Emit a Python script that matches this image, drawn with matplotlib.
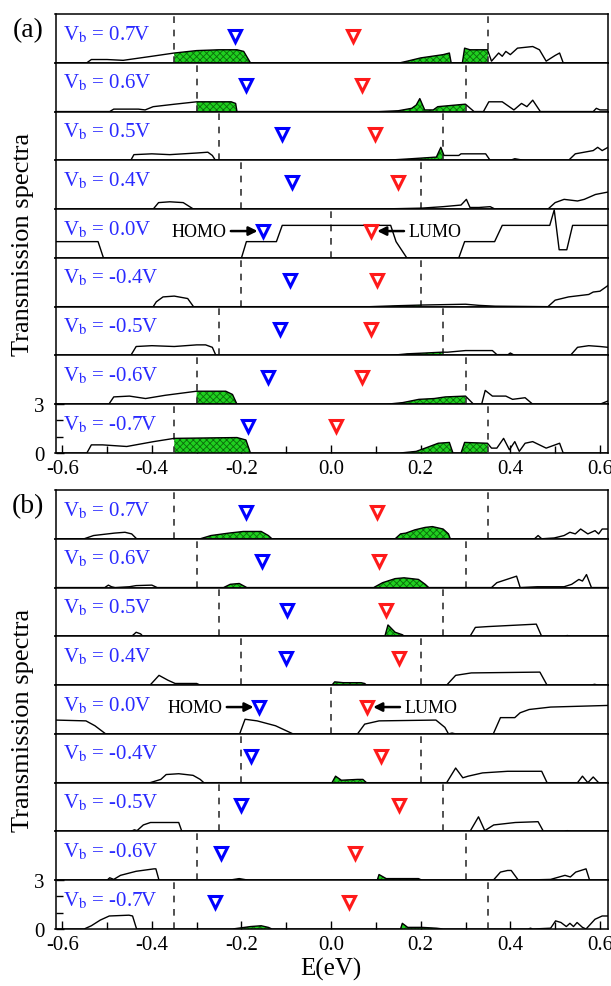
import numpy as np
import matplotlib
matplotlib.use("Agg")
import matplotlib.pyplot as plt

plt.rcParams['font.family'] = ['Liberation Serif', 'DejaVu Serif']
plt.rcParams['mathtext.fontset'] = 'stix'
plt.rcParams['hatch.linewidth'] = 0.6

# ---------------- data ----------------
vb_values = [0.7, 0.6, 0.5, 0.4, 0.0, -0.4, -0.5, -0.6, -0.7]
vb_labels = ['0.7V', '0.6V', '0.5V', '0.4V', '0.0V', '-0.4V', '-0.5V', '-0.6V', '-0.7V']

homo_a = [-0.214, -0.189, -0.109, -0.088, -0.151, -0.092, -0.113, -0.140, -0.185]
lumo_a = [0.048, 0.069, 0.099, 0.149, 0.090, 0.103, 0.090, 0.069, 0.010]
homo_b = [-0.190, -0.155, -0.098, -0.100, -0.160, -0.179, -0.200, -0.246, -0.260]
lumo_b = [0.103, 0.107, 0.123, 0.152, 0.081, 0.111, 0.151, 0.053, 0.041]

xticks = [-0.6, -0.4, -0.2, 0.0, 0.2, 0.4, 0.6]
xtick_labels = ['-0.6', '-0.4', '-0.2', '0.0', '0.2', '0.4', '0.6']

# panel (a) transmission curves
a07_E = [-0.615, -0.545, -0.535, -0.50, -0.464, -0.40, -0.35, -0.30, -0.25, -0.21, -0.195, -0.18,
         0.154, 0.17, 0.20, 0.225, 0.25, 0.264, 0.268, 0.293, 0.298, 0.31, 0.349, 0.358, 0.374,
         0.382, 0.39, 0.40, 0.416, 0.45, 0.465, 0.48, 0.50, 0.51, 0.518, 0.618]
a07_T = [0, 0, 0.2, 0.2, 0.15, 0.4, 0.6, 0.75, 0.8, 0.8, 0.7, 0,
         0, 0.1, 0.3, 0.4, 0.5, 0.6, 0, 0, 0.9, 0.8, 0.8, 0.1, 0.6,
         0.4, 0.7, 0.5, 0.9, 1.0, 0.8, 0.1, 0.45, 0.6, 0, 0]

a06_E = [-0.615, -0.494, -0.485, -0.43, -0.415, -0.397, -0.35, -0.30, -0.223, -0.213, -0.21,
         0.107, 0.15, 0.18, 0.19, 0.198, 0.209, 0.228, 0.238, 0.298, 0.30, 0.319, 0.34, 0.352,
         0.382, 0.408, 0.425, 0.437, 0.45, 0.467, 0.585, 0.592, 0.60, 0.618]
a06_T = [0, 0, 0.15, 0.15, 0.1, 0.3, 0.45, 0.6, 0.6, 0.5, 0,
         0, 0.05, 0.2, 0.4, 0.8, 0.1, 0.1, 0.3, 0.45, 0.45, 0, 0, 0.6,
         0.6, 0.1, 0.5, 0.3, 0.7, 0, 0, 0.2, 0.1, 0.1]

a05_E = [-0.615, -0.447, -0.44, -0.40, -0.36, -0.30, -0.275, -0.265, -0.258, 0.12, 0.18, 0.235,
         0.245, 0.252, 0.26, 0.285, 0.29, 0.345, 0.355, 0.40, 0.41, 0.42, 0.43, 0.53, 0.545,
         0.565, 0.585, 0.595, 0.605, 0.618]
a05_T = [0, 0, 0.35, 0.4, 0.35, 0.45, 0.5, 0.3, 0, 0, 0.1, 0.2,
         0.8, 0.3, 0.3, 0.3, 0.4, 0.4, 0, 0, 0.1, 0.05, 0, 0, 0.4,
         0.5, 0.6, 0.8, 0.6, 0.8]

a04_E = [-0.615, -0.397, -0.385, -0.36, -0.33, -0.307, 0.086, 0.15, 0.202, 0.25, 0.29, 0.302,
         0.31, 0.33, 0.355, 0.366, 0.484, 0.50, 0.52, 0.55, 0.565, 0.59, 0.618]
a04_T = [0, 0, 0.4, 0.45, 0.4, 0, 0, 0.03, 0.06, 0.15, 0.25, 0.6,
         0.1, 0.1, 0.15, 0, 0, 0.4, 0.6, 0.5, 0.6, 0.9, 1.05]

a00_E = [-0.615, -0.52, -0.508, -0.2, -0.189, -0.122, -0.109, 0.133, 0.145, 0.169, 0.285, 0.298,
         0.365, 0.382, 0.488, 0.498, 0.509, 0.526, 0.539, 0.618]
a00_T = [1.0, 1.0, 0, 0, 1.0, 1.0, 2.0, 2.0, 1.0, 0, 0, 1.0,
         1.0, 2.0, 2.0, 2.95, 0.5, 0.5, 2.0, 2.0]

am04_E = [-0.615, -0.397, -0.39, -0.375, -0.35, -0.32, -0.307, 0.086, 0.15, 0.202, 0.30, 0.33,
          0.366, 0.484, 0.50, 0.53, 0.56, 0.575, 0.585, 0.60, 0.618]
am04_T = [0, 0, 0.3, 0.6, 0.65, 0.5, 0, 0, 0.06, 0.1, 0.15, 0.08,
          0.03, 0, 0.4, 0.6, 0.7, 0.75, 0.9, 0.95, 1.3]

am05_E = [-0.615, -0.447, -0.435, -0.40, -0.35, -0.30, -0.28, -0.265, -0.257, 0.133, 0.17, 0.21,
          0.247, 0.26, 0.30, 0.36, 0.37, 0.395, 0.40, 0.41, 0.534, 0.55, 0.575, 0.60, 0.618]
am05_T = [0, 0, 0.55, 0.6, 0.55, 0.65, 0.65, 0.5, 0, 0, 0.1, 0.15,
          0.2, 0.2, 0.3, 0.3, 0.05, 0.05, 0.15, 0, 0, 0.5, 0.6, 0.55, 0.5]

am06_E = [-0.615, -0.496, -0.485, -0.45, -0.414, -0.37, -0.30, -0.235, -0.22, -0.21, 0.124, 0.16,
          0.196, 0.23, 0.255, 0.30, 0.318, 0.336, 0.344, 0.36, 0.39, 0.405, 0.433, 0.45, 0.60, 0.618]
am06_T = [0, 0, 0.45, 0.5, 0.35, 0.55, 0.8, 0.8, 0.6, 0, 0, 0.1,
          0.3, 0.35, 0.45, 0.5, 0, 0, 0.85, 0.5, 0.5, 0.3, 0.4, 0, 0, 0.2]

am07_E = [-0.615, -0.545, -0.535, -0.51, -0.456, -0.396, -0.35, -0.21, -0.19, -0.18, 0.154, 0.19,
          0.215, 0.239, 0.264, 0.272, 0.29, 0.298, 0.349, 0.358, 0.37, 0.385, 0.398, 0.41, 0.42,
          0.433, 0.45, 0.48, 0.51, 0.518, 0.618]
am07_T = [0, 0, 0.5, 0.5, 0.4, 0.7, 0.9, 0.95, 0.8, 0, 0, 0.1,
          0.35, 0.6, 0.65, 0, 0, 0.65, 0.6, 0.3, 0.3, 0.9, 0.2, 0.7, 0.1,
          0.6, 0.7, 0.3, 0.6, 0, 0]

# panel (b) transmission curves
b07_E = [-0.615, -0.551, -0.53, -0.483, -0.46, -0.445, -0.434, -0.292, -0.268, -0.228, -0.196,
         -0.156, -0.14, -0.132, 0.143, 0.155, 0.167, 0.187, 0.21, 0.226, 0.25, 0.262, 0.266,
         0.454, 0.462, 0.47, 0.498, 0.52, 0.533, 0.545, 0.557, 0.573, 0.589, 0.597, 0.605, 0.618]
b07_T = [0, 0, 0.2, 0.35, 0.4, 0.3, 0, 0, 0.2, 0.35, 0.45,
         0.45, 0.2, 0, 0, 0.3, 0.35, 0.55, 0.7, 0.75, 0.6, 0.3, 0,
         0, 0.2, 0, 0.05, 0.2, 0.4, 0.3, 0.6, 0.3, 0.5, 0.3, 0.6, 0.6]

b06_E = [-0.615, -0.505, -0.497, -0.49, -0.482, -0.45, -0.435, -0.40, -0.388, -0.24, -0.225,
         -0.205, -0.188, 0.095, 0.115, 0.143, 0.163, 0.195, 0.21, 0.218, 0.358, 0.37, 0.414,
         0.422, 0.46, 0.52, 0.537, 0.553, 0.561, 0.57, 0.581, 0.618]
b06_T = [0, 0, 0.15, 0.05, 0, 0.05, 0.12, 0.15, 0, 0, 0.2,
         0.25, 0, 0, 0.3, 0.55, 0.6, 0.5, 0.2, 0, 0, 0.3, 0.7,
         0, 0.05, 0.05, 0.2, 0.5, 0.4, 0.8, 0, 0]

b05_E = [-0.615, -0.445, -0.435, -0.425, -0.42, 0.12, 0.127, 0.143, 0.159, 0.164, 0.31, 0.322,
         0.35, 0.458, 0.47, 0.52, 0.527, 0.535, 0.618]
b05_T = [0, 0, 0.25, 0.15, 0, 0, 0.7, 0.25, 0.1, 0, 0, 0.55,
         0.6, 0.75, 0, 0, 0.05, 0, 0]

b04_E = [-0.615, -0.404, -0.384, -0.364, -0.348, -0.30, -0.292, 0.002, 0.008, 0.027, 0.067,
         0.075, 0.079, 0.258, 0.278, 0.313, 0.466, 0.482, 0.58, 0.588, 0.596, 0.618]
b04_T = [0, 0, 0.6, 0.3, 0.1, 0.1, 0, 0, 0.2, 0.15, 0.15,
         0.1, 0, 0, 0.6, 0.75, 0.8, 0, 0, 0.05, 0, 0]

b00_E = [-0.615, -0.547, -0.527, -0.503, -0.204, -0.192, -0.165, -0.124, -0.085, 0.059, 0.075,
         0.107, 0.234, 0.254, 0.262, 0.27, 0.278, 0.362, 0.37, 0.378, 0.41, 0.422, 0.442, 0.49, 0.618]
b00_T = [0.85, 0.8, 0.5, 0, 0, 0.9, 0.8, 0.5, 0, 0, 0.6,
         0.8, 0.85, 0.4, 0, 0.05, 0, 0, 0.5, 1.0, 1.0, 1.3, 1.5, 1.65, 1.75]

bm04_E = [-0.615, -0.404, -0.38, -0.368, -0.34, -0.308, -0.292, -0.284, 0.002, 0.01, 0.023,
          0.059, 0.071, 0.079, 0.258, 0.278, 0.294, 0.306, 0.338, 0.394, 0.47, 0.482, 0.55,
          0.561, 0.573, 0.585, 0.597, 0.618]
bm04_T = [0, 0, 0.2, 0.5, 0.55, 0.45, 0.2, 0, 0, 0.4, 0.15,
          0.2, 0.2, 0, 0, 0.9, 0.3, 0.4, 0.6, 0.7, 0.7, 0, 0,
          0.4, 0, 0.35, 0, 0]

bm05_E = [-0.615, -0.447, -0.439, -0.433, -0.419, -0.403, -0.34, -0.333, 0.31, 0.329, 0.343,
          0.363, 0.411, 0.462, 0.474, 0.52, 0.527, 0.535, 0.618]
bm05_T = [0, 0, 0.1, 0.05, 0.4, 0.55, 0.55, 0, 0, 0.9, 0.05,
          0.4, 0.55, 0.6, 0, 0, 0.05, 0, 0]

bm06_E = [-0.615, -0.5, -0.494, -0.485, -0.47, -0.435, -0.395, -0.391, -0.384, -0.228, -0.205,
          -0.184, 0.103, 0.107, 0.123, 0.195, 0.203, 0.362, 0.378, 0.394, 0.402, 0.418, 0.49,
          0.522, 0.534, 0.546, 0.569, 0.577, 0.618]
bm06_T = [0, 0, 0.15, 0.05, 0.3, 0.55, 0.7, 0.7, 0, 0, 0.1,
          0, 0, 0.35, 0.1, 0.1, 0, 0, 0.5, 0.6, 0.6, 0, 0.05,
          0.3, 0.2, 0.5, 0.7, 0, 0]

bm07_E = [-0.615, -0.551, -0.535, -0.515, -0.495, -0.451, -0.443, -0.434, -0.22, -0.18, -0.156,
          -0.14, -0.132, 0.155, 0.159, 0.171, 0.203, 0.235, 0.25, 0.44, 0.445, 0.45, 0.49, 0.501,
          0.513, 0.525, 0.533, 0.541, 0.549, 0.561, 0.569, 0.589, 0.605, 0.618]
bm07_T = [0, 0, 0.2, 0.55, 0.8, 0.85, 0.8, 0, 0, 0.15, 0.2,
          0.1, 0, 0, 0.35, 0.1, 0.1, 0.05, 0, 0, 0.05, 0, 0.05, 0.5,
          0.4, 0.15, 0.35, 0.15, 0.4, 0.1, 0, 0.6, 0.8, 0.8]

curves_a = [(a07_E, a07_T), (a06_E, a06_T), (a05_E, a05_T), (a04_E, a04_T), (a00_E, a00_T),
            (am04_E, am04_T), (am05_E, am05_T), (am06_E, am06_T), (am07_E, am07_T)]
curves_b = [(b07_E, b07_T), (b06_E, b06_T), (b05_E, b05_T), (b04_E, b04_T), (b00_E, b00_T),
            (bm04_E, bm04_T), (bm05_E, bm05_T), (bm06_E, bm06_T), (bm07_E, bm07_T)]

# ---------------- figure ----------------
W, H = 611, 987
fig = plt.figure(figsize=(W / 100, H / 100), dpi=100)

XLIM = (-0.615, 0.618)
YLIM = (0, 3)
left_px, right_px = 55.5, 608
GREEN = '#1fd01f'
BLUE_TXT = '#2a2aff'
TRI_Y = 1.65


def draw_panel(top_px, bot_px, curves, homos, lumos, tag):
    n = len(vb_values)
    row_h = (bot_px - top_px) / n
    axes = []
    for i in range(n):
        y0 = bot_px - (n - i) * row_h
        ax = fig.add_axes([left_px / W, 1 - (y0 + row_h) / H,
                           (right_px - left_px) / W, row_h / H])
        ax.set_xlim(*XLIM)
        ax.set_ylim(*YLIM)
        for s in ax.spines.values():
            s.set_linewidth(1.1)
        E = np.asarray(curves[i][0], float)
        T = np.asarray(curves[i][1], float)
        vb = vb_values[i]
        lo, hi = -abs(vb) / 2, abs(vb) / 2
        if vb != 0:
            xs = np.union1d(np.linspace(lo, hi, 600), E[(E > lo) & (E < hi)])
            ys = np.interp(xs, E, T)
            ax.fill_between(xs, 0, ys, facecolor=GREEN, edgecolor='#0b6a0b',
                            hatch='xxxxx', linewidth=0, zorder=2)
            for xv in (lo, hi):
                ax.axvline(xv, color='#333333', lw=1.2, ls=(0, (4, 4)), zorder=3)
        else:
            ax.axvline(0.0, color='#333333', lw=1.2, ls=(0, (4, 4)), zorder=3)
        ax.plot(E, T, color='black', lw=1.0, zorder=4, clip_on=True)
        ax.plot([homos[i]], [TRI_Y], marker='v', ms=9, mfc='white', mec='#0000ff',
                mew=2.2, ls='none', zorder=5)
        ax.plot([lumos[i]], [TRI_Y], marker='v', ms=9, mfc='white', mec='#ff1a1a',
                mew=2.2, ls='none', zorder=5)
        ax.text(0.014, 0.60, r'V$_{\mathrm{b}}$ = ' + vb_labels[i], transform=ax.transAxes,
                color=BLUE_TXT, fontsize=15, ha='left', va='center', zorder=6)
        if vb == 0:
            ax.annotate('HOMO', xy=(homos[i] - 0.013, TRI_Y), xytext=(homos[i] - 0.082, TRI_Y),
                        ha='right', va='center', fontsize=13,
                        arrowprops=dict(arrowstyle='-|>', color='black', lw=1.8,
                                        mutation_scale=13, shrinkA=1, shrinkB=0))
            ax.annotate('LUMO', xy=(lumos[i] + 0.013, TRI_Y), xytext=(lumos[i] + 0.082, TRI_Y),
                        ha='left', va='center', fontsize=13,
                        arrowprops=dict(arrowstyle='-|>', color='black', lw=1.8,
                                        mutation_scale=13, shrinkA=1, shrinkB=0))
        if i == n - 1:
            ax.set_xticks(xticks)
            ax.set_xticklabels(xtick_labels, fontsize=15)
            ax.set_xticks(np.arange(-0.5, 0.51, 0.2), minor=True)
            ax.set_yticks([0, 3])
            ax.set_yticklabels(['0', '3'], fontsize=15)
            ax.set_yticks([1, 2], minor=True)
            ax.tick_params(which='both', direction='in', top=False, right=False)
            ax.tick_params(axis='x', pad=4)
            ax.tick_params(axis='y', pad=8)
            ax.tick_params(which='major', length=6, width=1)
            ax.tick_params(which='minor', length=5, width=1)
        else:
            ax.set_xticks([])
            ax.set_yticks([])
        axes.append(ax)
    ycen = 1 - ((top_px + bot_px) / 2 + 10) / H
    fig.text(23 / W, ycen, 'Transmission spectra', rotation=90, fontsize=19,
             ha='center', va='center')
    fig.text(28 / W, 1 - (top_px + 16) / H, tag, fontsize=20, ha='center', va='center')
    return axes


draw_panel(15, 454, curves_a, homo_a, lumo_a, '(a)')
draw_panel(491, 930, curves_b, homo_b, lumo_b, '(b)')
fig.text(331 / W, 1 - 969 / H, 'E(eV)', fontsize=18, ha='center', va='center')

fig.savefig('out.png', dpi=100)
